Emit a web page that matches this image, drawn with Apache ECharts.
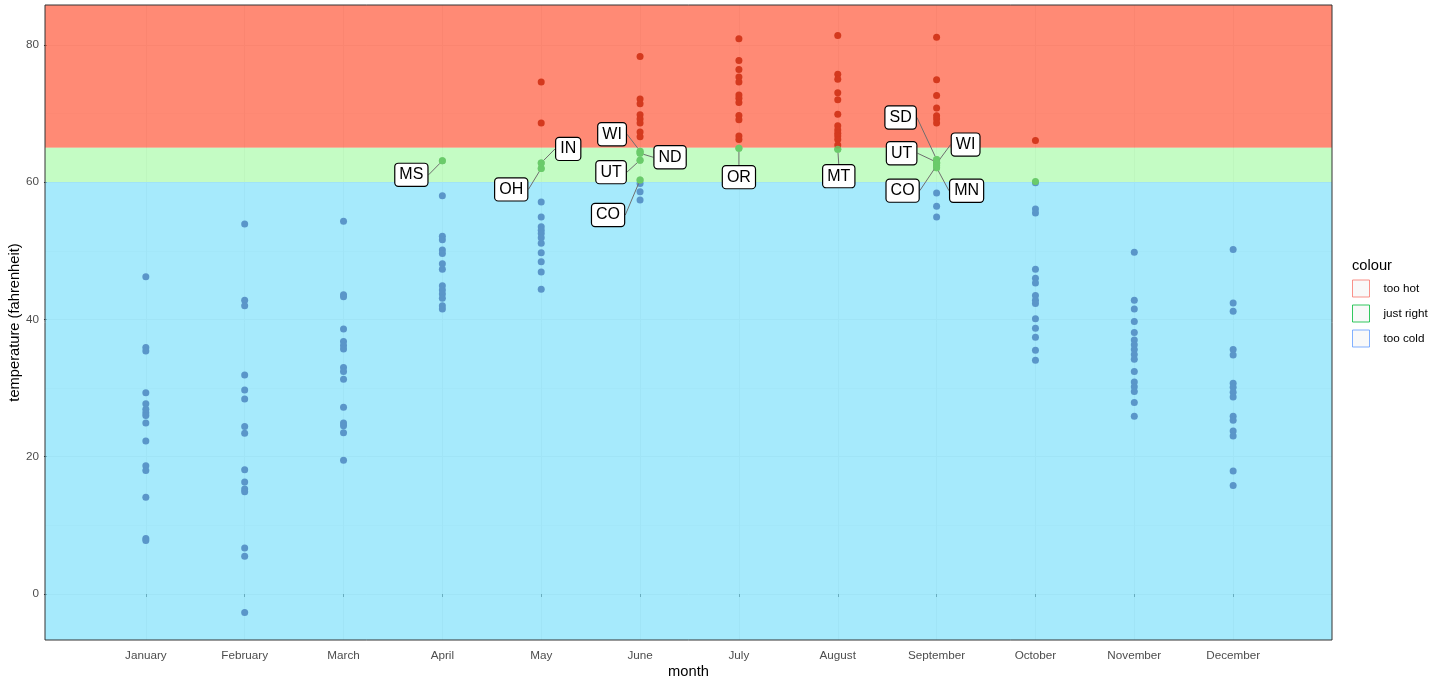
<!DOCTYPE html>
<html><head><meta charset="utf-8">
<script src="https://cdn.jsdelivr.net/npm/echarts@6/dist/echarts.min.js"></script>
<style>html,body{margin:0;padding:0;background:#fff}#c{width:1440px;height:684px}</style>
</head><body><div id="c"></div>
<script>
// ---------- data ----------
const monthNames = ['January','February','March','April','May','June','July','August','September','October','November','December'];
const tJan = [46.2, 35.9, 35.4, 29.3, 27.7, 26.9, 26.4, 26.0, 24.9, 22.3, 18.7, 18.0, 14.1, 8.1, 7.8];
const tFeb = [53.9, 42.8, 42.0, 31.9, 29.7, 28.4, 24.4, 23.4, 18.1, 16.3, 15.3, 14.9, 6.7, 5.5, -2.7];
const tMar = [54.3, 43.6, 43.3, 38.6, 36.8, 36.2, 35.7, 33.0, 32.4, 31.3, 27.2, 24.9, 24.5, 23.5, 19.5];
const tApr = [63.1, 58.0, 52.1, 51.6, 50.1, 49.6, 48.1, 47.3, 44.9, 44.3, 43.7, 43.1, 42.0, 41.5];
const tMay = [74.6, 68.6, 62.8, 62.0, 57.1, 54.9, 53.5, 53.0, 52.5, 51.9, 51.1, 49.7, 48.4, 46.9, 44.4];
const tJun = [78.3, 72.1, 71.4, 69.8, 69.2, 68.6, 67.3, 66.6, 64.5, 64.2, 63.2, 60.3, 59.8, 58.6, 57.4];
const tJul = [80.9, 77.7, 76.4, 75.3, 74.6, 72.7, 72.2, 71.6, 69.7, 69.1, 66.7, 66.2, 64.95];
const tAug = [81.35, 75.7, 75.0, 73.0, 72.0, 69.9, 68.2, 67.6, 67.1, 66.7, 66.2, 65.4, 64.8];
const tSep = [81.1, 74.9, 72.6, 70.8, 69.65, 69.2, 68.6, 63.3, 62.9, 62.7, 62.4, 62.1, 58.4, 56.5, 54.9];
const tOct = [66.05, 60.1, 59.9, 56.1, 55.5, 47.3, 46.0, 45.3, 43.5, 42.8, 42.3, 40.1, 38.7, 37.4, 35.5, 34.05];
const tNov = [49.8, 42.8, 41.5, 39.7, 38.1, 37.0, 36.3, 35.6, 34.9, 34.2, 32.4, 30.9, 30.2, 29.5, 27.9, 25.9];
const tDec = [50.2, 42.4, 41.2, 35.6, 34.8, 30.7, 30.1, 29.4, 28.7, 25.9, 25.3, 23.75, 23.0, 17.9, 15.8];

const labelStates   = ['MS','OH','IN','WI','ND','UT','CO','OR','MT','SD','UT','WI','CO','MN'];
const labelMonthNum = [4, 5, 5, 6, 6, 6, 6, 7, 8, 9, 9, 9, 9, 9];
const labelTemps    = [63.1, 62.0, 62.8, 64.5, 64.2, 63.2, 60.3, 64.95, 64.8, 63.3, 62.9, 62.7, 62.4, 62.1];

const bandNames = ['too hot', 'just right', 'too cold'];
const coldBelow = 60, hotAbove = 65;
const yTicks = [0, 20, 40, 60, 80];
const yMinorTicks = [10, 30, 50, 70];

// ---------- layout / style ----------
const Y_MIN = -6.7, Y_MAX = 85.8, X_MIN = -0.02, X_MAX = 13.0;
const FONT = '"Liberation Sans", Arial, sans-serif';
const labelOffsets = [[-31,14],[-30,21],[27,-14],[-28,-17],[30,4],[-29,12],[-32,35],[0,29],[1,27],[-36,-42],[-35,-9],[29,-19],[-34,25],[30,23]];
const pointColors = {hot:'#D4391E', right:'#6ACB6A', cold:'#5A96C9'};
const legendBorders = ['#F8766D', '#00BA38', '#619CFF'];
const bandFills = ['rgba(255,99,71,0.75)', 'rgba(171,251,171,0.7)', 'rgba(128,225,251,0.7)'];

const allMonths = [tJan,tFeb,tMar,tApr,tMay,tJun,tJul,tAug,tSep,tOct,tNov,tDec];
const hot = [], right = [], cold = [];
allMonths.forEach((arr, i) => arr.forEach(v => {
  const p = [i + 1, v];
  if (v > hotAbove) hot.push(p); else if (v >= coldBelow) right.push(p); else cold.push(p);
}));
const monthPos = monthNames.map((_, i) => i + 1);

const bandRanges = [[hotAbove, Y_MAX], [coldBelow, hotAbove], [Y_MIN, coldBelow]];
const bandSeries = bandNames.map((n, i) => ({
  name: n, type: 'scatter', data: [], z: 1,
  itemStyle: {color: '#F7F7F7', borderColor: legendBorders[i], borderWidth: 1},
  markArea: {silent: true, itemStyle: {color: bandFills[i], borderWidth: 0},
    data: [[{yAxis: bandRanges[i][0]}, {yAxis: bandRanges[i][1]}]]}
}));

const ptSeries = (data, color) => ({type: 'scatter', data, symbolSize: 7, z: 5,
  itemStyle: {color, opacity: 1}, emphasis: {disabled: true}});

const chart = echarts.init(document.getElementById('c'), null, {renderer: 'canvas'});
chart.setOption({
  animation: false,
  backgroundColor: '#fff',
  textStyle: {fontFamily: FONT},
  title: {text: 'colour', left: 1347, top: 253, textStyle: {fontSize: 14.7, fontWeight: 'normal', color: '#000', fontFamily: FONT}},
  legend: {orient: 'vertical', left: 1347, top: 274.5, itemWidth: 17, itemHeight: 17, itemGap: 7,
    selectedMode: false,
    textStyle: {fontSize: 11.7, color: '#000', fontFamily: FONT, padding: [0, 0, 0, 9]},
    data: bandNames.map((n, i) => ({name: n, icon: 'rect',
      itemStyle: {color: '#F7F7F7', borderColor: legendBorders[i], borderWidth: 1}}))},
  grid: {left: 45, right: 108, top: 5, bottom: 44, show: true, z: 10, containLabel: false,
    outerBoundsMode: 'none',
    backgroundColor: 'transparent', borderColor: '#333', borderWidth: 1},
  xAxis: [{type: 'value', min: X_MIN, max: X_MAX,
    axisLine: {show: false},
    axisTick: {show: true, customValues: monthPos, length: 3, lineStyle: {color: '#333'}},
    axisLabel: {customValues: monthPos, formatter: v => monthNames[Math.round(v) - 1] || '',
      color: '#4D4D4D', fontSize: 11.7, margin: 10, fontFamily: FONT},
    splitLine: {show: true, lineStyle: {color: '#EBEBEB', width: 1}},
    name: 'month', nameLocation: 'middle', nameGap: 24, nameMoveOverlap: false,
    nameTextStyle: {fontSize: 14.7, color: '#000', fontFamily: FONT}}],
  yAxis: [{type: 'value', min: Y_MIN, max: Y_MAX,
    axisLine: {show: false},
    axisTick: {show: true, customValues: yTicks, length: 3, lineStyle: {color: '#333'}},
    axisLabel: {customValues: yTicks, color: '#4D4D4D', fontSize: 11.7, margin: 6, fontFamily: FONT},
    splitLine: {show: true, lineStyle: {color: '#EBEBEB', width: 1}},
    name: 'temperature (fahrenheit)', nameLocation: 'middle', nameGap: 23, nameRotate: 90,
    nameMoveOverlap: false,
    nameTextStyle: {fontSize: 14.7, color: '#000', fontFamily: FONT}},
   {type: 'value', min: Y_MIN, max: Y_MAX, position: 'right',
    axisLine: {show: false}, axisTick: {show: false, customValues: yMinorTicks},
    axisLabel: {show: false, customValues: yMinorTicks},
    splitLine: {show: true, lineStyle: {color: '#F0F0F0', width: 0.6}}}],
  series: [
    ...bandSeries,
    ptSeries(cold, pointColors.cold),
    ptSeries(right, pointColors.right),
    ptSeries(hot, pointColors.hot),
    {type: 'scatter', z: 8, symbolSize: 7,
      data: labelTemps.map((v, i) => ({value: [labelMonthNum[i], v], name: labelStates[i]})),
      itemStyle: {color: pointColors.right},
      label: {show: true, position: 'inside', formatter: p => p.name,
        fontSize: 16, lineHeight: 16, color: '#000', opacity: 1, textBorderWidth: 0,
        fontFamily: FONT, backgroundColor: '#ffffff',
        borderColor: '#000000', borderWidth: 1.2, borderRadius: 3, padding: [3, 4, 3, 4]},
      labelLine: {show: true, lineStyle: {color: '#6E6E6E', width: 1, opacity: 1}},
      labelLayout: p => ({dx: labelOffsets[p.dataIndex][0], dy: labelOffsets[p.dataIndex][1]}),
      emphasis: {disabled: true}}
  ]
});
</script></body></html>
